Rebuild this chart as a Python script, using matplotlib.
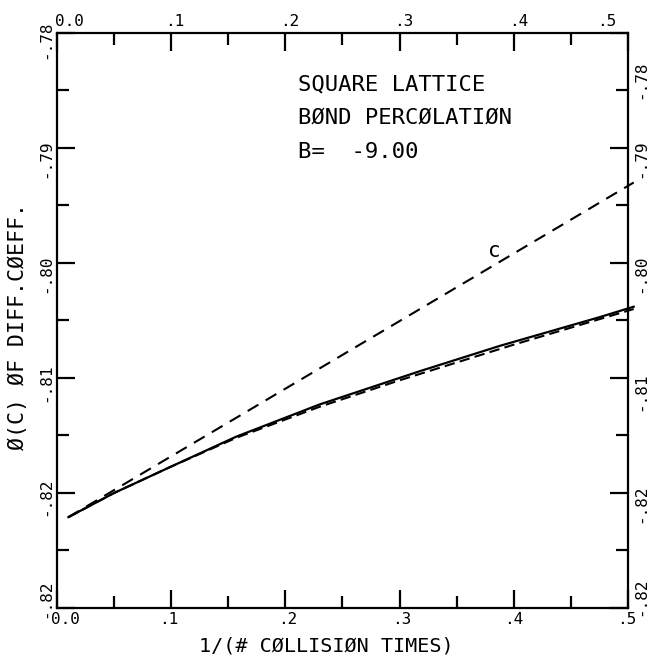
import matplotlib.pyplot as plt
from matplotlib.ticker import MultipleLocator
from matplotlib.transforms import ScaledTranslation

# values
x_ticks = [0.0, 0.1, 0.2, 0.3, 0.4, 0.5]
x_ticklabels = ['0.0', '.1', '.2', '.3', '.4', '.5']
y_ticks = [-0.83, -0.82, -0.81, -0.80, -0.79, -0.78]
y_ticklabels = ['-.82', '-.82', '-.81', '-.80', '-.79', '-.78']

# full calculation (solid)
x_solid = [0.01, 0.05, 0.10, 0.157, 0.23, 0.318, 0.388, 0.4755, 0.505]
y_solid = [-0.8221, -0.8200, -0.8177, -0.8151, -0.8123, -0.8094, -0.8072, -0.8047, -0.8038]

# approximation (short dashes, just under the solid one)
x_dash = [0.01, 0.05, 0.10, 0.157, 0.23, 0.30, 0.40, 0.505]
y_dash = [-0.8221, -0.8200, -0.8177, -0.8152, -0.8125, -0.8102, -0.8071, -0.8040]

# straight line "c"
x_c = [0.01, 0.505]
y_c = [-0.8221, -0.7930]

plt.rcParams['font.family'] = 'DejaVu Sans Mono'

fig = plt.figure(figsize=(6.49, 6.60), dpi=100)
ax = fig.add_axes([0.0878, 0.0788, 0.8798, 0.8712])

ax.plot(x_solid, y_solid, color='black', lw=1.6, clip_on=False)
ax.plot(x_dash, y_dash, color='black', lw=1.5, dashes=(5, 2.5), clip_on=False)
ax.plot(x_c, y_c, color='black', lw=1.5, dashes=(6, 4), clip_on=False)

ax.text(0.383, -0.7990, 'c', fontsize=15, ha='center', va='center')

ax.text(0.211, -0.7845, 'SQUARE LATTICE', fontsize=16, va='center')
ax.text(0.211, -0.78736, 'BØND PERCØLATIØN', fontsize=16, va='center')
ax.text(0.211, -0.79039, 'B=  -9.00', fontsize=16, va='center')

ax.set_xlim(0, 0.5)
ax.set_ylim(-0.83, -0.78)
ax.set_xticks(x_ticks)
ax.set_xticklabels(x_ticklabels)
ax.set_yticks(y_ticks)
ax.set_yticklabels(y_ticklabels)
ax.xaxis.set_minor_locator(MultipleLocator(0.05))
ax.yaxis.set_minor_locator(MultipleLocator(0.005))

ax.tick_params(which='both', direction='in', top=True, right=True,
               labeltop=True, labelright=True, width=1.6, labelsize=11.5)
ax.tick_params(which='major', length=13)
ax.tick_params(which='minor', length=8.5)
ax.tick_params(axis='x', pad=3)
ax.tick_params(axis='y', labelrotation=90, pad=2.5)

for s in ax.spines.values():
    s.set_linewidth(1.6)


def nudge(label, dx, dy):
    # shift a tick label by dx, dy pixels (dpi is 100)
    label.set_transform(label.get_transform() +
                        ScaledTranslation(dx / 100, dy / 100, fig.dpi_scale_trans))


xt = ax.xaxis.get_major_ticks()
top_dx = [12, 4, 4, 4, 5, -21]
bot_dx = [8, -2, 2, 2, 0, -1]
for t, a, b in zip(xt, top_dx, bot_dx):
    nudge(t.label2, a, 0)
    nudge(t.label1, b, 0)

yt = ax.yaxis.get_major_ticks()
left_dy = [22, 9, 8, 2, 2, 6]
right_dy = [24, 2, -1, 2, 2, -34]
for t, a, b in zip(yt, left_dy, right_dy):
    nudge(t.label1, 0, a)
    nudge(t.label2, 2, b)

ax.set_xlabel('1/(# CØLLISIØN TIMES)', fontsize=14.5)
ax.xaxis.set_label_coords(0.472, -0.05)
ax.set_ylabel('Ø(C) ØF DIFF.CØEFF.', fontsize=15.5)
ax.yaxis.set_label_coords(-0.051, 0.489)

fig.savefig('out.png', dpi=100)
